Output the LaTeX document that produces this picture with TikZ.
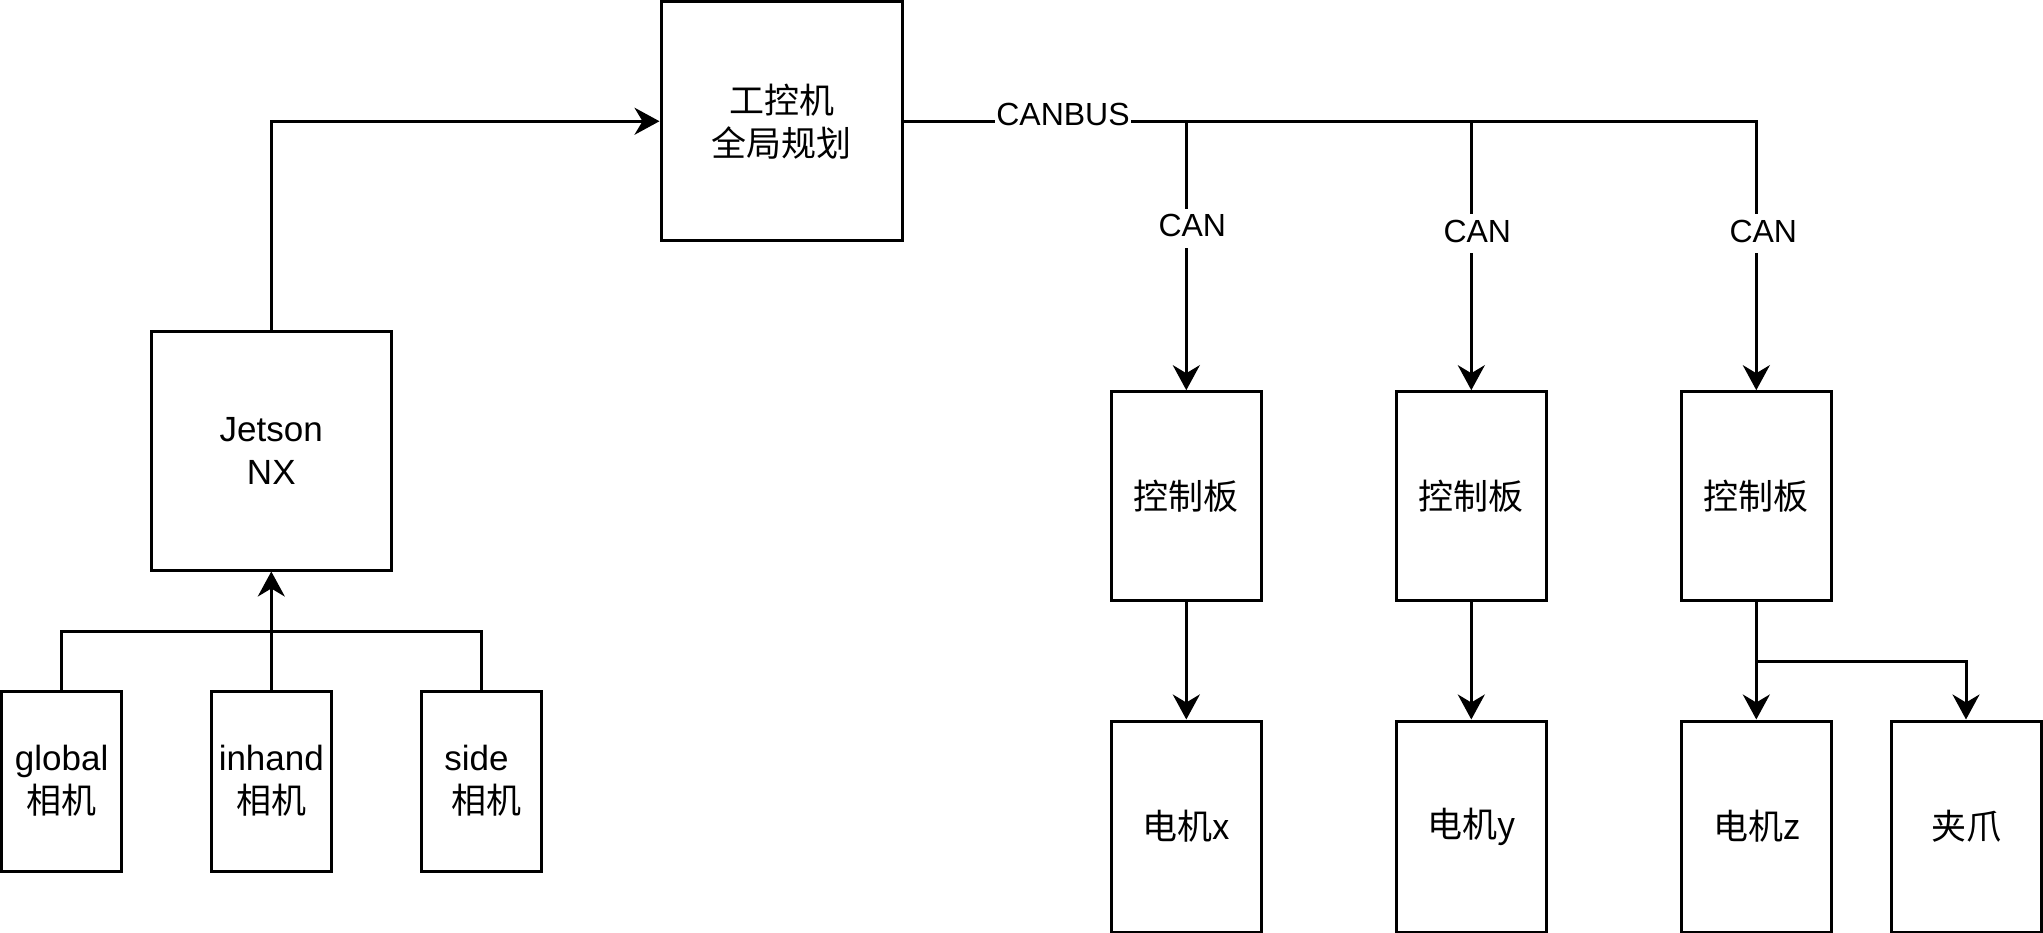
\documentclass[tikz,border=0pt]{standalone}
\usepackage{fontspec}
\setmainfont{Liberation Sans}
\newfontfamily\cjk{Noto Sans CJK SC}
\usetikzlibrary{arrows.meta}

\begin{document}
\begin{tikzpicture}[x=1pt,y=-1pt,line width=3pt,line join=miter,
  box/.style={draw,line width=3pt,inner sep=0pt,align=center,
    font=\fontsize{35}{43}\selectfont},
  arr/.style={-{Stealth[length=25pt,width=27pt,inset=8pt]}},
  lbl/.style={fill=white,inner xsep=2pt,inner ysep=4pt,text height=24pt,
    text depth=7pt,font=\fontsize{32}{38}\selectfont}]
\useasboundingbox (0,0) rectangle (2043,933);

% upper level
\node[box,minimum width=241pt,minimum height=239.5pt] (gk) at (781.5,121.25)
  {\cjk 工控机\\\cjk 全局规划};
\node[box,minimum width=240pt,minimum height=238pt] (jet) at (271.3,451)
  {Jetson\\NX};

% cameras
\node[box,minimum width=120pt,minimum height=180pt] (glob) at (61.7,781)
  {global\\{\cjk 相机}};
\node[box,minimum width=120pt,minimum height=180pt] (inh) at (271.3,781)
  {inhand\\{\cjk 相机}};
\node[box,minimum width=120pt,minimum height=180pt] (side) at (481.7,781)
  {side\hspace*{0.3em}\\\hspace*{0.3em}{\cjk 相机}};

% control boards
\foreach \n/\x in {cb1/1186.3,cb2/1471.3,cb3/1756.3}
  \node[box,minimum width=150pt,minimum height=209pt] (\n) at (\x,496.2)
    {\cjk 控制板};

% actuators
\node[box,minimum width=150pt,minimum height=211pt] (mx) at (1186.3,826.5) {\cjk 电机x};
\node[box,minimum width=150pt,minimum height=211pt] (my) at (1471.3,826.5) {\cjk 电机y};
\node[box,minimum width=150pt,minimum height=211pt] (mz) at (1756.3,826.5) {\cjk 电机z};
\node[box,minimum width=150pt,minimum height=211pt] (jz) at (1966,826.5) {\cjk 夹爪};

% camera bundle into the Jetson
\coordinate (camjoin) at (271.3,631.7);
\draw (glob.north) |- (camjoin) -| (side.north);
\draw[arr] (inh.north) -- (jet.south);

% Jetson to the industrial PC
\draw[arr] (jet.north) |- (gk.west);

% CAN bus
\draw[arr] (gk.east) -- node[lbl,pos=0.187,yshift=4pt,inner xsep=1pt] {CANBUS}
  (cb3.north |- gk.east) -- node[lbl,pos=0.419,xshift=7pt] {CAN} (cb3.north);
\draw[arr] (cb1.north |- gk.east) -- node[lbl,pos=0.397,xshift=6pt] {CAN} (cb1.north);
\draw[arr] (cb2.north |- gk.east) -- node[lbl,pos=0.419,xshift=6pt] {CAN} (cb2.north);

% boards to motors and gripper
\draw[arr] (cb1.south) -- (mx.north);
\draw[arr] (cb2.south) -- (my.north);
\draw[arr] (cb3.south) -- (mz.north);
\coordinate (fork) at (1756.3,661);
\draw[arr] (fork) -| (jz.north);
\end{tikzpicture}
\end{document}
